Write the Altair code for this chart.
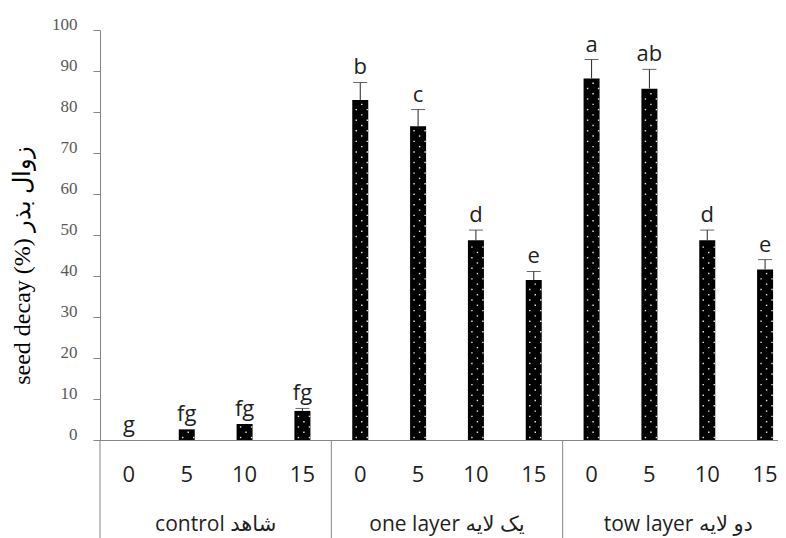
import altair as alt
import pandas as pd

groups = ["control شاهد", "one layer  یک لایه", "tow layer دو لایه"]
doses = ["0", "5", "10", "15"]
values = [0, 2.6, 3.9, 7.1, 82.9, 76.5, 48.7, 39.0, 88.2, 85.7, 48.7, 41.6]
errors = [0, 0, 0, 0.6, 4.3, 4.1, 2.5, 2.1, 4.6, 4.7, 2.5, 2.4]
letters = ["g", "fg", "fg", "fg", "b", "c", "d", "e", "a", "ab", "d", "e"]
y_ticks = list(range(0, 101, 10))
y_title = "seed decay (%) زوال بذر"

rows = []
for gi, g in enumerate(groups):
    for di, d in enumerate(doses):
        i = gi * 4 + di
        rows.append(dict(key=f"{gi}-{d}", group=g, dose=d, value=values[i],
                         err=errors[i], top=values[i] + errors[i], letter=letters[i]))
df = pd.DataFrame(rows)
keys = list(df["key"])

grp_df = pd.DataFrame({"key": [f"{gi}-10" for gi in range(len(groups))], "group": groups})
div_df = pd.DataFrame({"key": [f"{gi}-0" for gi in range(len(groups))]})

H = 410
W = 678          # visible plot width (the chart is cut at the right edge)
FULL_W = 694     # full width of the 12 category bands
SANS = "Open Sans, DejaVu Sans"
SERIF = "Liberation Serif"
GRAY = "#868686"
TXT = "#1f1f1f"

xscale = alt.Scale(domain=keys, paddingInner=0, paddingOuter=0, range=[0, FULL_W])


def X(band=None):
    if band is None:
        return alt.X("key:N", scale=xscale, title=None)
    return alt.X("key:N", scale=xscale, title=None, bandPosition=band)


yscale = alt.Scale(domain=[0, 100], nice=False)


def Y(field):
    return alt.Y(field, scale=yscale, title=y_title,
                 axis=alt.Axis(values=y_ticks))


base = alt.Chart(df)

bars = base.mark_bar(size=16, color="black").encode(x=X(), y=Y("value:Q"))

dots_base = (base.transform_filter("datum.value > 1")
             .transform_calculate(dotv="sequence(0.6, datum.value - 0.4, 1.29)")
             .transform_flatten(["dotv"])
             .transform_calculate(row="round((datum.dotv - 0.6) / 1.29) % 2"))
dotsA1 = dots_base.transform_filter("datum.row == 0").mark_square(
    size=2, color="white", opacity=0.9, xOffset=-4).encode(x=X(), y=Y("dotv:Q"))
dotsA2 = dots_base.transform_filter("datum.row == 0").mark_square(
    size=2, color="white", opacity=0.9, xOffset=7).encode(x=X(), y=Y("dotv:Q"))
dotsB = dots_base.transform_filter("datum.row == 1").mark_square(
    size=2, color="white", opacity=0.9, xOffset=1.5).encode(x=X(), y=Y("dotv:Q"))

err_rule = base.transform_filter("datum.err > 0").mark_rule(
    color="#262626", strokeWidth=1).encode(x=X(), y=Y("value:Q"), y2="top:Q")
err_cap = base.transform_filter("datum.err > 0").mark_tick(
    color="#262626", size=14, thickness=1).encode(x=X(), y=Y("top:Q"))

letter_txt = base.mark_text(font=SANS, fontSize=22, baseline="alphabetic",
                            dy=-8, color=TXT).encode(
    x=X(), y=Y("top:Q"), text="letter:N")

dose_txt = base.mark_text(font=SANS, fontSize=22, baseline="middle",
                          color=TXT).encode(
    x=X(), y=alt.value(H + 35), text="dose:N")

grp_txt = alt.Chart(grp_df).mark_text(font=SANS, fontSize=21, baseline="middle",
                                      color=TXT).encode(
    x=X(0), y=alt.value(H + 85), text="group:N")

dividers = alt.Chart(div_df).mark_rule(color=GRAY, strokeWidth=1).encode(
    x=X(0), y=alt.value(H), y2=alt.value(H + 130))

chart = alt.layer(
    bars, dotsA1, dotsA2, dotsB, err_rule, err_cap, letter_txt, dose_txt,
    grp_txt, dividers
).properties(
    width=W, height=H,
    autosize=alt.AutoSizeParams(type="none"),
    padding={"left": 92, "top": 22, "right": 0, "bottom": 98},
).configure_view(
    stroke=None
).configure_axisX(
    labels=False, ticks=False, grid=False, domainColor=GRAY, domainWidth=1,
    title=None
).configure_axisY(
    grid=False, domainColor=GRAY, tickColor=GRAY, tickSize=7,
    labelFont=SERIF, labelFontSize=17, labelColor="#595959",
    labelPadding=16, labelOffset=-6,
    titleFont=SERIF, titleFontSize=24, titleFontWeight="normal",
    titleColor="black", titleX=-78, titleY=235, titleBaseline="middle",
    titleAngle=270
).configure_title(font=SERIF)

chart.save("out.html", embed_options={"renderer": "svg", "actions": False})
